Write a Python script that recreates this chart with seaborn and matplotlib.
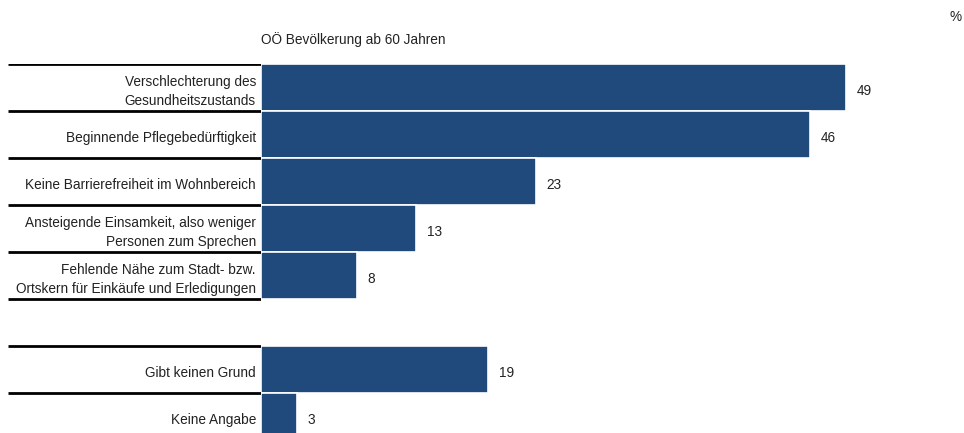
import matplotlib
matplotlib.use("Agg")
import matplotlib.pyplot as plt
import seaborn as sns
import pandas as pd

categories = [
    "Verschlechterung des\nGesundheitszustands",
    "Beginnende Pflegebedürftigkeit",
    "Keine Barrierefreiheit im Wohnbereich",
    "Ansteigende Einsamkeit, also weniger\nPersonen zum Sprechen",
    "Fehlende Nähe zum Stadt- bzw.\nOrtskern für Einkäufe und Erledigungen",
    "Gibt keinen Grund",
    "Keine Angabe",
]
values = [49, 46, 23, 13, 8, 19, 3]
positions = [0, 1, 2, 3, 4, 6, 7]
title = "OÖ Bevölkerung ab 60 Jahren"
unit = "%"

sns.set_theme(style="white")
plt.rcParams["font.family"] = ["Liberation Sans", "DejaVu Sans"]

W, H = 964, 433
fig = plt.figure(figsize=(W / 100, H / 100), dpi=100)

row_px = 47
top_px = 64
n_rows = 8
ax_h = row_px * n_rows
bottom_frac = (H - (top_px + ax_h)) / H

px_per_unit = (846 - 261) / 49
x0 = 261
ax = fig.add_axes([x0 / W, bottom_frac, (W - x0) / W, ax_h / H])
lab = fig.add_axes([8 / W, bottom_frac, (x0 - 8) / W, ax_h / H], sharey=ax)

df = pd.DataFrame({"pos": positions, "val": values})
sns.barplot(data=df, x="val", y="pos", orient="h", native_scale=True,
            color="#214a7c", saturation=1, width=1.0,
            edgecolor="white", linewidth=1.2, ax=ax)

ax.set_xlim(0, (W - x0) / px_per_unit)
ax.set_ylim(7.5, -0.5)
for s in ax.spines.values():
    s.set_visible(False)
ax.set_xticks([])
ax.set_yticks([])
ax.set_xlabel("")
ax.set_ylabel("")

fs = 9.8
for p, v in zip(positions, values):
    ax.text(v + 0.9, p + 0.08, str(v), va="center", ha="left", fontsize=fs, color="#222222")

lab.set_xlim(0, 1)
lab.axis("off")
for p, c in zip(positions, categories):
    lab.text(0.98, p + 0.08, c, ha="right", va="center", fontsize=fs,
             color="#222222", linespacing=1.45)
for b in [-0.5, 0.5, 1.5, 2.5, 3.5, 4.5, 5.5, 6.5]:
    lab.plot([0, 1], [b, b], color="black", linewidth=2.0, solid_capstyle="butt")

fig.text(x0 / W, 1 - 40 / H, title, ha="left", va="center", fontsize=fs, color="#222222")
fig.text(950 / W, 1 - 17 / H, unit, ha="left", va="center", fontsize=fs, color="#222222")

fig.savefig("out.png", dpi=100)
